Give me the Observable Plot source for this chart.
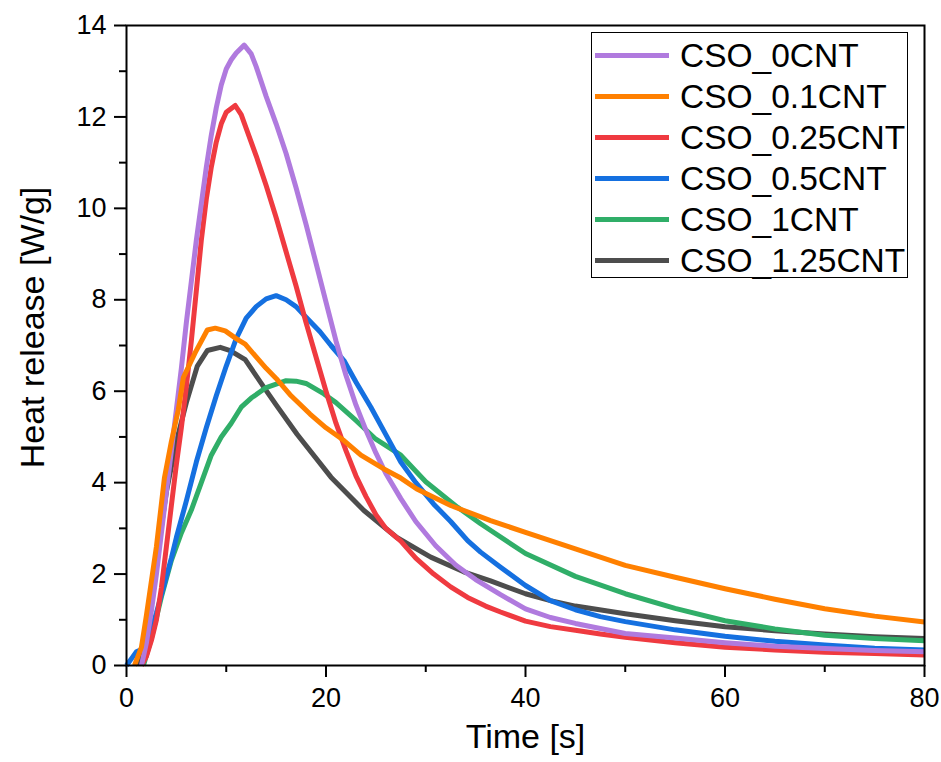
<!DOCTYPE html>
<html><head><meta charset="utf-8">
<script src="https://cdn.jsdelivr.net/npm/d3@7"></script>
<script src="https://cdn.jsdelivr.net/npm/@observablehq/plot@0.6"></script>
<style>
body{margin:0;background:#fff;font-family:"Liberation Sans",Arial,sans-serif;}
#wrap{position:relative;width:941px;height:762px;}
#legend{position:absolute;left:591px;top:32px;width:317px;height:246px;border:1.5px solid #000;box-sizing:border-box;background:#fff;}
.row{position:absolute;left:0;height:41px;display:flex;align-items:center;white-space:nowrap;}
.sw{width:74px;height:5px;margin-left:3px;margin-right:11px;}
.lb{font-size:33.5px;color:#000;line-height:1;}
</style></head><body><div id="wrap"><div id="chart"></div><div id="legend"></div></div>
<script>
const seriesNames = ["CSO_0CNT","CSO_0.1CNT","CSO_0.25CNT","CSO_0.5CNT","CSO_1CNT","CSO_1.25CNT"];
const seriesColors = ["#b07ade","#ff8000","#ef3a40","#1570e0","#30ae68","#4d4d4d"];

const time_0CNT = [1.5,2,2.5,3,3.5,4,4.5,5,5.5,6,6.5,7,7.5,8,8.5,9,9.5,10,10.5,11,11.8,12.5,13,14,15,16,17,18,19,20,21,22,23,24,25,26,27.5,29,31,33,35,37.5,40,42.5,45,50,55,60,65,70,75,80];
const hr_0CNT   = [0,0.5,1.2,2.0,2.9,3.8,4.7,5.6,6.5,7.5,8.4,9.3,10.1,10.9,11.6,12.2,12.7,13.05,13.25,13.4,13.57,13.38,13.1,12.45,11.85,11.2,10.45,9.65,8.8,7.95,7.1,6.35,5.7,5.15,4.65,4.2,3.65,3.15,2.62,2.2,1.88,1.55,1.24,1.05,0.92,0.7,0.6,0.5,0.42,0.37,0.33,0.3];

const time_01CNT = [0.8,1.5,2,3,3.8,4.5,5.2,5.7,6.9,8.1,8.9,9.9,11,11.9,13,14,15,16.5,18.4,20,21.8,23.5,25.8,27.5,29.1,32.5,36.5,40,45,50,55,60,65,70,75,80];
const hr_01CNT   = [0,0.4,1.1,2.6,4.1,4.9,5.6,6.3,6.85,7.34,7.38,7.32,7.15,7.03,6.75,6.5,6.28,5.9,5.5,5.2,4.92,4.6,4.3,4.1,3.86,3.5,3.17,2.91,2.55,2.19,1.93,1.68,1.45,1.24,1.08,0.95];

const time_025CNT = [1.5,2,2.5,3,3.5,4,4.5,5,5.5,6,6.5,7,7.5,8,8.5,9,9.5,10,10.9,11.5,12,13,14,15,16,17,18,19,20,21,22,23,24,25,26,27.5,29,30.8,32.5,34.2,36,37.5,40,42.5,45,47.5,50,55,60,65,70,75,80];
const hr_025CNT   = [0,0.2,0.55,1.0,1.7,2.6,3.5,4.4,5.2,6.1,7.1,8.2,9.3,10.2,10.9,11.45,11.85,12.1,12.25,12.05,11.75,11.15,10.5,9.8,9.05,8.3,7.5,6.75,6.0,5.3,4.7,4.15,3.7,3.3,3.0,2.72,2.35,2.0,1.72,1.49,1.3,1.17,0.97,0.85,0.77,0.69,0.62,0.5,0.4,0.34,0.29,0.26,0.23];

const time_05CNT = [0,0.5,1,1.5,2,2.5,3,3.5,4,4.5,5,5.5,6,7,8,9,10,11,12,13,14,15,16,17,18,19.4,20.5,21.8,23,24.5,26,27.5,29,30.8,32.5,34.2,35.5,37.5,40,42.5,45,47.5,50,55,60,65,70,75,80];
const hr_05CNT   = [0,0.15,0.3,0.35,0.5,0.8,1.15,1.55,1.95,2.35,2.8,3.2,3.6,4.45,5.2,5.9,6.55,7.15,7.6,7.85,8.02,8.09,8.0,7.85,7.62,7.3,7.0,6.67,6.2,5.65,5.05,4.45,4.0,3.53,3.15,2.73,2.48,2.15,1.75,1.42,1.22,1.07,0.96,0.78,0.64,0.53,0.45,0.38,0.34];

const time_1CNT = [1.7,2.5,3.5,4.5,5.5,6.5,7.5,8.5,9.5,10.5,11.5,12.5,14,16,17,18,19.8,21,23,25,27.5,30,33.2,35.5,40,45,50,55,60,65,70,75,80];
const hr_1CNT   = [0,0.6,1.5,2.3,2.9,3.4,4.0,4.6,5.0,5.3,5.65,5.85,6.08,6.23,6.22,6.17,5.94,5.75,5.36,4.95,4.6,4.02,3.46,3.1,2.45,1.95,1.57,1.25,0.98,0.8,0.66,0.59,0.54];

const time_125CNT = [1.2,2,3,4,5,6,7.1,8.1,9.4,10.4,11.9,13.8,15,17.1,20.5,23.8,27.1,30.5,33.8,36.5,40,42.5,45,50,55,60,65,70,75,80];
const hr_125CNT   = [0,0.8,2.3,3.8,4.9,5.75,6.55,6.89,6.96,6.89,6.69,6.08,5.7,5.06,4.12,3.39,2.8,2.37,2.05,1.85,1.57,1.42,1.3,1.13,0.98,0.85,0.76,0.69,0.63,0.59];

const xMajor = [0,20,40,60,80];
const xMinor = [10,30,50,70];
const yMajor = [0,2,4,6,8,10,12,14];
const yMinor = [1,3,5,7,9,11,13];
const xTitle = "Time [s]";
const yTitle = "Heat release [W/g]";

const times = [time_0CNT,time_01CNT,time_025CNT,time_05CNT,time_1CNT,time_125CNT];
const values = [hr_0CNT,hr_01CNT,hr_025CNT,hr_05CNT,hr_1CNT,hr_125CNT];
const seriesData = seriesNames.map((name,i)=>times[i].map((t,j)=>({t, v: values[i][j], s: name})));

// drawing order (last on top)
const drawOrder = [5,4,3,2,0,1];

const chart = Plot.plot({
  width: 941, height: 762,
  marginLeft: 126, marginRight: 17, marginTop: 25, marginBottom: 97,
  style: {fontFamily: "'Liberation Sans', Arial, sans-serif", background: "#fff", color: "#000"},
  x: {domain: [0,80]},
  y: {domain: [0,14]},
  marks: [
    ...drawOrder.map(i => Plot.line(seriesData[i], {x: "t", y: "v", stroke: seriesColors[i], strokeWidth: 5, strokeLinejoin: "round", strokeLinecap: "butt"})),
    Plot.axisX({ticks: xMajor, tickSize: 12, tickPadding: 10, fontSize: 27, strokeWidth: 2, label: null}),
    Plot.axisX({ticks: xMinor, tickSize: 7, tickFormat: () => "", strokeWidth: 2, label: null}),
    Plot.axisY({ticks: yMajor, tickSize: 12, tickPadding: 8, fontSize: 27, strokeWidth: 2, label: null}),
    Plot.axisY({ticks: yMinor, tickSize: 7, tickFormat: () => "", strokeWidth: 2, label: null}),
    Plot.frame({stroke: "#000", strokeWidth: 2}),
    Plot.text([xTitle], {frameAnchor: "bottom", textAnchor: "middle", dy: 82, fontSize: 34, fill: "#000"}),
    Plot.text([yTitle], {frameAnchor: "left", textAnchor: "middle", rotate: -90, dx: -93, dy: -18, fontSize: 34, fill: "#000"})
  ]
});
document.getElementById("chart").appendChild(chart);

const legend = document.getElementById("legend");
seriesNames.forEach((name,i)=>{
  const row = document.createElement("div");
  row.className = "row";
  row.style.top = (2 + 41*i) + "px";
  const sw = document.createElement("div");
  sw.className = "sw"; sw.style.background = seriesColors[i];
  const lb = document.createElement("span");
  lb.className = "lb"; lb.textContent = name;
  row.appendChild(sw); row.appendChild(lb);
  legend.appendChild(row);
});
</script></body></html>
